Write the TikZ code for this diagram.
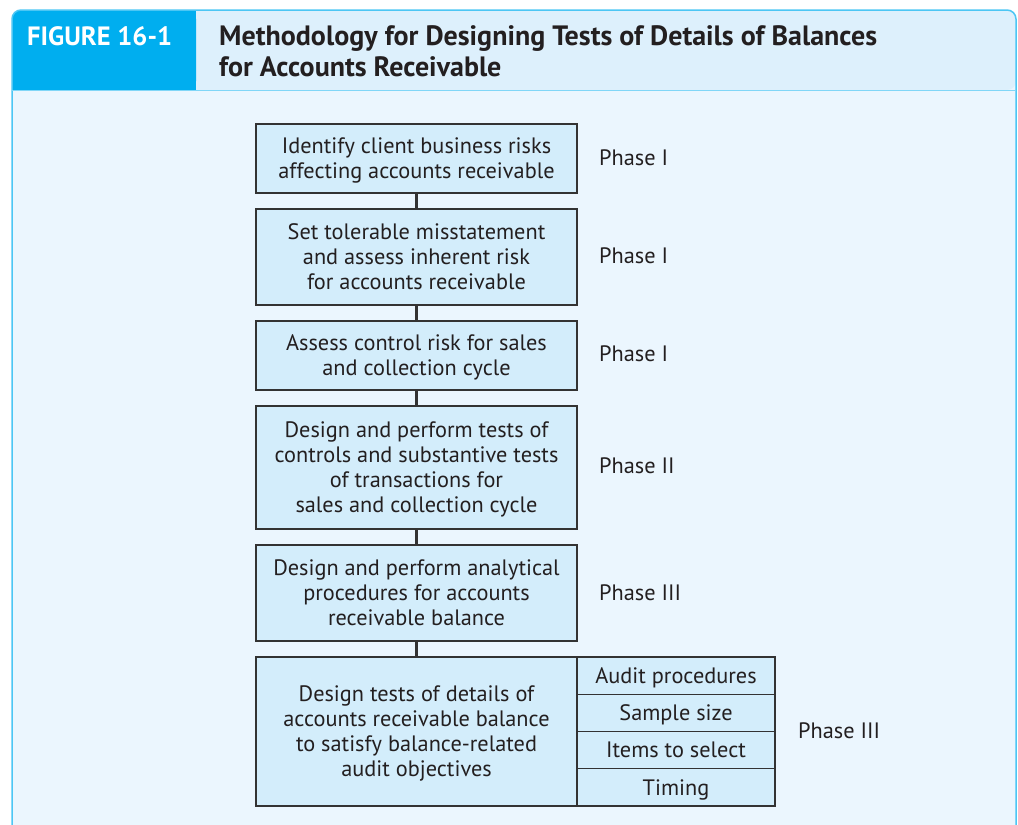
\documentclass[tikz,border=0pt]{standalone}
\usepackage{fontspec}
\setmainfont{PT Sans}
\definecolor{hcyan}{HTML}{00AEEF}
\definecolor{hlight}{HTML}{DDF0FC}
\definecolor{bodybg}{HTML}{EBF6FE}
\definecolor{boxfill}{HTML}{D3EDFB}
\definecolor{boxline}{HTML}{333333}
\definecolor{txt}{HTML}{231F20}
\tikzset{
  box/.style={draw=boxline, fill=boxfill, line width=1.3pt, inner sep=0pt, align=center,
    text=txt, font=\fontsize{22.3}{25}\selectfont, text depth=0pt},
  sub/.style={box, minimum width=198pt, minimum height=37.25pt},
  phase/.style={anchor=west, text=txt, font=\fontsize{22.3}{25}\selectfont, inner sep=0pt},
  link/.style={draw=boxline, line width=2.6pt}
}
\begin{document}
\begin{tikzpicture}[x=1pt,y=-1pt]
\useasboundingbox (0,0) rectangle (1018,825);
% panel
\fill[bodybg, rounded corners=9pt] (12,840) -- (12,10) -- (1016,10) -- (1016,840) -- cycle;
\fill[hlight, rounded corners=9pt] (12,90) -- (12,10) -- (1016,10) -- (1016,90) -- cycle;
\fill[hcyan, rounded corners=9pt] (196,90) -- (196,10) -- (12,10) -- (12,90) -- cycle;
\fill[hcyan] (150,10) rectangle (196,90);
\fill[hcyan] (12,60) rectangle (60,90);
\draw[hcyan!70, line width=1.5pt, rounded corners=9pt] (12,840) -- (12,10) -- (1016,10) -- (1016,840);
\draw[hcyan!50, line width=1.2pt] (12,90.5) -- (1016,90.5);
% header text
\node[anchor=west, text=white, inner sep=0pt, font=\fontsize{26.5}{30}\bfseries\selectfont] (fig) at (27,36) {FIGURE 16-1};
\node[anchor=west, text=txt, inner sep=0pt, align=left, font=\fontsize{28}{31}\bfseries\selectfont] (title) at (219,51.5) {Methodology for Designing Tests of Details of Balances\\for Accounts Receivable};
% boxes
\node[box, minimum width=321pt, minimum height=69pt] (b1) at (416.5,158.5) {Identify client business risks\\affecting accounts receivable};
\node[box, minimum width=321pt, minimum height=96pt] (b2) at (416.5,257) {Set tolerable misstatement\\and assess inherent risk\\for accounts receivable};
\node[box, minimum width=321pt, minimum height=69pt] (b3) at (416.5,355.5) {Assess control risk for sales\\and collection cycle};
\node[box, minimum width=321pt, minimum height=123pt] (b4) at (416.5,467.5) {Design and perform tests of\\controls and substantive tests\\of transactions for\\sales and collection cycle};
\node[box, minimum width=321pt, minimum height=96pt] (b5) at (416.5,593) {Design and perform analytical\\procedures for accounts\\receivable balance};
\node[box, minimum width=321pt, minimum height=149pt] (b6) at (416.5,731.5) {Design tests of details of\\accounts receivable balance\\to satisfy balance-related\\audit objectives};
\node[sub] (s1) at (676,675.6) {Audit procedures};
\node[sub] (s2) at (676,712.9) {Sample size};
\node[sub] (s3) at (676,750.1) {Items to select};
\node[sub] (s4) at (676,787.4) {Timing};
% connectors
\draw[link] (b1.south) -- (b2.north);
\draw[link] (b2.south) -- (b3.north);
\draw[link] (b3.south) -- (b4.north);
\draw[link] (b4.south) -- (b5.north);
\draw[link] (b5.south) -- (b6.north);
% phases
\node[phase] (p1) at (599,158) {Phase I};
\node[phase] (p2) at (599,256) {Phase I};
\node[phase] (p3) at (599,354) {Phase I};
\node[phase] (p4) at (599,466) {Phase II};
\node[phase] (p5) at (599,593) {Phase III};
\node[phase] (p6) at (798,731) {Phase III};
\end{tikzpicture}
\end{document}
